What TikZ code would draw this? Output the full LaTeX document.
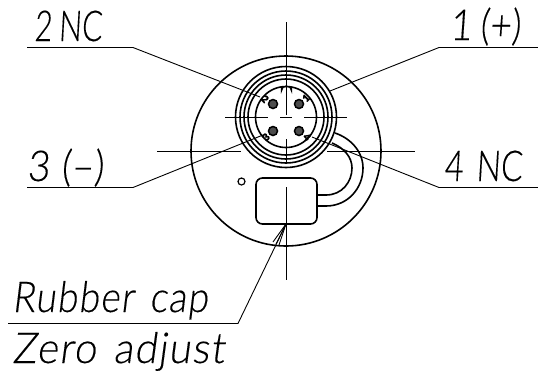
\documentclass[tikz,border=0pt]{standalone}
\usepackage{fontspec}
\setmainfont{Lato}[UprightFont=* Light]
\newfontfamily\drawfont{Lato}[UprightFont=* Light,FakeSlant=0.08,WordSpace=0.8,FakeBold=0.25]
\newfontfamily\slantfont{Lato}[UprightFont=* Light,FakeSlant=0.14,WordSpace=1.4,LetterSpace=3,FakeBold=0.25]
\newfontfamily\pinfont{Lato}[UprightFont=* Black,FakeBold=1.5]
\definecolor{pindark}{gray}{0.3}
\tikzset{
  body/.style={draw=black,line width=1.6pt},
  thinline/.style={draw=black,line width=0.9pt},
  axisline/.style={draw=black,line width=0.9pt},
  pin/.style={circle,draw=black,line width=1.5pt,fill=pindark,minimum size=9pt,inner sep=0pt},
  pinno/.style={inner sep=0pt,font=\pinfont\fontsize{10}{10}\selectfont},
  lbl/.style={inner sep=0pt,anchor=base west,font=\drawfont\fontsize{38}{40}\selectfont},
  lbs/.style={inner sep=0pt,anchor=base west,font=\slantfont\fontsize{38}{40}\selectfont}
}
\begin{document}
\begin{tikzpicture}[x=1pt,y=-1pt]
\useasboundingbox (0,0) rectangle (538,376);
\fill[white] (0,0) rectangle (538,376);
% coordinates
\coordinate (c) at (286,117);
\coordinate (b) at (286,151);
% body
\draw[body] (b) circle[radius=95];
\foreach \r in {50.5,46,42,38,30.5}{\draw[body] (c) circle[radius=\r];}
% notch
\draw[thinline,line width=1.1pt] (281.5,86.5) -- (281.5,91) arc[start angle=180,end angle=360,radius=5] -- (291.5,86.5);
% pins
\node[pin] (p2) at (273,104) {};
\node[pin] (p1) at (299,104) {};
\node[pin] (p3) at (273,131) {};
\node[pin] (p4) at (299,131) {};
\node[pinno,rotate=-45] (n2) at (265,99) {2};
\node[pinno,rotate=45] (n1) at (306,98) {1};
\node[pinno,rotate=45] (n3) at (266,137) {3};
\node[pinno,rotate=-45] (n4) at (307,137) {4};
% cap
\draw[body,rounded corners=6.5pt] (256,178) rectangle (317,224);
\node[circle,body,line width=1.2pt,minimum size=7pt,inner sep=0pt] (hole) at (241.5,181.5) {};
% cable
\coordinate (cabA) at (317,195);
\coordinate (cabB) at (317,206);
\coordinate (cabA2) at (332,143);
\coordinate (cabB2) at (335,133);
\draw[body] (cabA) -- (326,195) .. controls (342,195) and (352,182) .. (352,168) .. controls (352,157) and (344,148) .. (cabA2);
\draw[body] (cabB) -- (326,206) .. controls (348,206) and (363,188) .. (363,168) .. controls (363,151) and (350,138) .. (cabB2);
% axes
\coordinate (vt) at (286,22);
\coordinate (vt2) at (286,115);
\draw[axisline] (vt) -- (vt2);
\draw[axisline] (286,139) -- (286,162);
\draw[axisline] (286,187) -- (286,280);
\draw[axisline] (225,117) -- (268,117);
\draw[axisline] (280,117) -- (292,117);
\draw[axisline] (304,117) -- (347,117);
\draw[axisline] (157,151) -- (241,151);
\draw[axisline] (327,151) -- (415,151);
% fan
\coordinate (apex) at (286,224);
\draw[thinline] (apex) -- (273,242);
\draw[thinline] (apex) -- (276,244);
\draw[thinline] (apex) -- (279,245);
% labels
\node[lbl] (t2) at (34,41) {\scalebox{0.8}[1.12]{2 NC}};
\node[lbl] (t3) at (27,181) {\scalebox{1.02}[1.12]{3\hspace{3pt} (–)}};
\node[lbl] (t1) at (450,40) {\scalebox{0.98}[1.12]{1 (+)}};
\node[lbl] (t4) at (444,181) {\scalebox{0.85}[1.12]{4\hspace{7pt} NC}};
\node[lbs] (tr) at (12,312) {\scalebox{0.98}[1.12]{Rubber cap}};
\node[lbs] (tz) at (12,363) {\scalebox{1.07}[1.12]{Zero adjust}};
% leaders
\coordinate (u2a) at (27,47.5); \coordinate (u2b) at (133,47.5); \coordinate (u2e) at (260,97);
\coordinate (u3a) at (27,187.5); \coordinate (u3b) at (133,187.5); \coordinate (u3e) at (263,135);
\coordinate (u1a) at (538,47.5); \coordinate (u1b) at (439,47.5); \coordinate (u1e) at (330,91);
\coordinate (u4a) at (538,187.5); \coordinate (u4b) at (439,187.5); \coordinate (u4e) at (312,137);
\coordinate (ura) at (8,323.5); \coordinate (urb) at (238,323.5);
\draw[thinline] (u2a) -- (u2b) -- (u2e);
\draw[thinline] (u3a) -- (u3b) -- (u3e);
\draw[thinline] (u1a) -- (u1b) -- (u1e);
\draw[thinline] (u4a) -- (u4b) -- (u4e);
\draw[thinline] (ura) -- (urb) -- (apex);
\end{tikzpicture}
\end{document}
